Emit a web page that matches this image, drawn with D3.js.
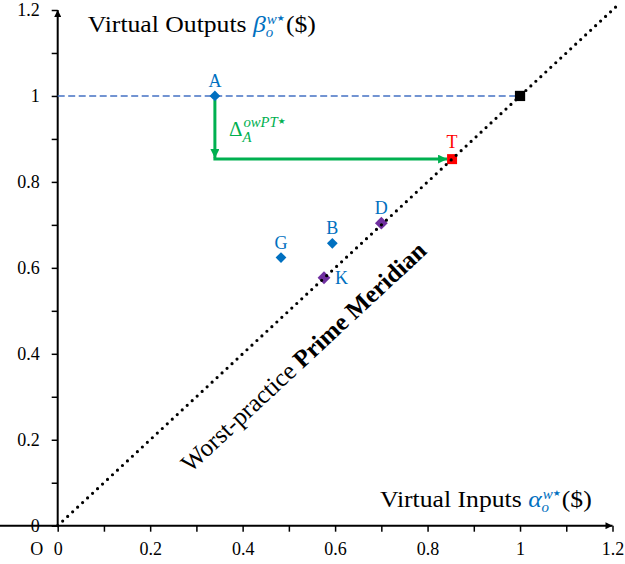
<!DOCTYPE html>
<html>
<head>
<meta charset="utf-8">
<script src="https://cdn.jsdelivr.net/npm/d3@7"></script>
<style>
body { margin: 0; background: #fff; }
text { font-family: "Liberation Serif", "Times New Roman", serif; }
</style>
</head>
<body>
<div id="chart"></div>
<script>
// axis ticks
const majorTicks = [0, 0.2, 0.4, 0.6, 0.8, 1, 1.2];
const minorTicks = [0.1, 0.3, 0.5, 0.7, 0.9, 1.1];
// DMUs (virtual input, virtual output)
const dmuNames = ["A", "G", "B", "K", "D"];
const dmuInputs = [0.34, 0.483, 0.594, 0.576, 0.70];
const dmuOutputs = [1.0, 0.624, 0.657, 0.577, 0.704];
const dmuOnMeridian = [false, false, false, true, true];
const dmuLabelSide = ["top", "top", "top", "right", "top"];
// target of A and the (1,1) point
const targetName = "T";
const targetPoint = [0.853, 0.853];
const unitPoint = [1, 1];
const meridianEnd = 1.21;

const W = 625, H = 564;
const blue = "#0070C0", purple = "#7030A0", green = "#00B050", red = "#FF0000", dashBlue = "#4472C4";

var x = d3.scaleLinear().domain([0, 1.2]).range([57.7, 612.5]);
var y = d3.scaleLinear().domain([0, 1.2]).range([525.7, 10]);

var svg = d3.select("#chart").append("svg")
	.attr("width", W)
	.attr("height", H);

var defs = svg.append("defs");
function arrowMarker(id, color, len, wid) {
	defs.append("marker")
		.attr("id", id)
		.attr("viewBox", "0 -5 10 10")
		.attr("refX", 10).attr("refY", 0)
		.attr("markerUnits", "userSpaceOnUse")
		.attr("markerWidth", len).attr("markerHeight", wid)
		.attr("orient", "auto")
		.append("path")
		.attr("d", "M0,-5L10,0L0,5Z")
		.attr("fill", color);
}
arrowMarker("axisArrow", "#000", 8, 7);
arrowMarker("greenArrow", green, 9, 9);

var allTicks = majorTicks.concat(minorTicks).sort(d3.ascending);
var fmt = function(d) { return majorTicks.indexOf(d) >= 0 ? d3.format("")(+d.toFixed(1)) : ""; };

var xAxis = svg.append("g")
	.attr("transform", "translate(0," + y(0) + ")")
	.call(d3.axisBottom(x).tickValues(allTicks).tickFormat(fmt).tickSize(6).tickSizeOuter(0).tickPadding(10.5));
var yAxis = svg.append("g")
	.attr("transform", "translate(" + x(0) + ",0)")
	.call(d3.axisLeft(y).tickValues(allTicks).tickFormat(fmt).tickSize(6).tickSizeOuter(0).tickPadding(12));

[xAxis, yAxis].forEach(function(a) {
	a.select(".domain").attr("stroke-width", 2).attr("marker-end", "url(#axisArrow)");
	a.selectAll(".tick line").attr("stroke-width", 1.5);
	a.selectAll("text").attr("font-family", "Liberation Serif").attr("font-size", 18).attr("fill", "#000");
});
// domain paths drawn from low to high, the arrow on the y axis must point up
yAxis.select(".domain").attr("d", "M0," + y(0) + "V" + y(1.2));
xAxis.select(".domain").attr("d", "M0,0H" + x(1.2));

svg.append("text")
	.attr("x", x(0) - 21).attr("y", y(0) + 29.3)
	.attr("text-anchor", "middle")
	.attr("font-size", 18)
	.text("O");

// dashed line at output 1
svg.append("line")
	.attr("x1", x(0)).attr("y1", y(1))
	.attr("x2", x(unitPoint[0]) - 5).attr("y2", y(1))
	.attr("stroke", dashBlue).attr("stroke-width", 1.6)
	.attr("stroke-dasharray", "7,3.5");

// green projection of A onto its target
var aIdx = dmuNames.indexOf("A");
svg.append("line")
	.attr("x1", x(dmuInputs[aIdx])).attr("y1", y(dmuOutputs[aIdx]) + 4)
	.attr("x2", x(dmuInputs[aIdx])).attr("y2", y(targetPoint[1]) - 1)
	.attr("stroke", green).attr("stroke-width", 3)
	.attr("marker-end", "url(#greenArrow)");
svg.append("line")
	.attr("x1", x(dmuInputs[aIdx]) - 1.5).attr("y1", y(targetPoint[1]))
	.attr("x2", x(targetPoint[0]) - 5).attr("y2", y(targetPoint[1]))
	.attr("stroke", green).attr("stroke-width", 3)
	.attr("marker-end", "url(#greenArrow)");

// markers
var diamond = d3.symbol().type(d3.symbolSquare);
svg.selectAll(".dmu").data(dmuNames).enter().append("path")
	.attr("d", function(d, i) { return diamond.size(dmuOnMeridian[i] ? 82 : 58)(); })
	.attr("transform", function(d, i) { return "translate(" + x(dmuInputs[i]) + "," + y(dmuOutputs[i]) + ") rotate(45)"; })
	.attr("fill", function(d, i) { return dmuOnMeridian[i] ? purple : blue; });

svg.append("path")
	.attr("d", d3.symbol().type(d3.symbolSquare).size(105)())
	.attr("transform", "translate(" + x(unitPoint[0]) + "," + y(unitPoint[1]) + ")")
	.attr("fill", "#000");
svg.append("path")
	.attr("d", d3.symbol().type(d3.symbolSquare).size(100)())
	.attr("transform", "translate(" + x(targetPoint[0]) + "," + y(targetPoint[1]) + ")")
	.attr("fill", red);

// worst-practice prime meridian
svg.append("line")
	.attr("x1", x(0)).attr("y1", y(0))
	.attr("x2", x(meridianEnd)).attr("y2", y(meridianEnd))
	.attr("stroke", "#000").attr("stroke-width", 3.2)
	.attr("stroke-linecap", "round")
	.attr("stroke-dasharray", "0,6.8");

// point labels
svg.selectAll(".lab").data(dmuNames).enter().append("text")
	.attr("x", function(d, i) { return x(dmuInputs[i]) + (dmuLabelSide[i] == "right" ? 11 : 0); })
	.attr("y", function(d, i) { return y(dmuOutputs[i]) + (dmuLabelSide[i] == "right" ? 6 : -9); })
	.attr("text-anchor", function(d, i) { return dmuLabelSide[i] == "right" ? "start" : "middle"; })
	.attr("font-size", 18)
	.attr("fill", blue)
	.text(function(d) { return d; });
svg.append("text")
	.attr("x", x(targetPoint[0])).attr("y", y(targetPoint[1]) - 11)
	.attr("text-anchor", "middle")
	.attr("font-size", 18)
	.attr("fill", red)
	.text(targetName);

// text with a stacked sub/superscript, stretched a little sideways like the original
function mathRun(px, py, sx, parts) {
	var g = svg.append("g").attr("transform", "translate(" + px + "," + py + ") scale(" + sx + ",1)");
	var cx = 0;
	parts.forEach(function(p) {
		var t = g.append("text")
			.attr("x", cx).attr("y", 0)
			.attr("font-size", p.size)
			.attr("fill", p.color || "#000")
			.attr("font-style", p.italic ? "italic" : null)
			.attr("font-family", p.font || null)
			.attr("xml:space", "preserve")
			.text(p.text);
		var w = t.node().getComputedTextLength();
		if (p.sub || p.sup) {
			var ws = 0;
			if (p.sup) {
				var s = g.append("text").attr("x", cx + w + 1).attr("y", p.supDy)
					.attr("font-size", p.ss).attr("font-style", "italic")
					.attr("font-family", "DejaVu Serif")
					.attr("fill", p.color);
				s.append("tspan").text(p.sup);
				s.append("tspan").attr("font-family", "DejaVu Sans").attr("font-style", "normal")
					.attr("font-size", p.ss * 0.6).attr("dy", -p.ss * 0.25).text("★");
				ws = Math.max(ws, s.node().getComputedTextLength());
			}
			if (p.sub) {
				var b = g.append("text").attr("x", cx + w).attr("y", p.subDy)
					.attr("font-size", p.ss).attr("font-style", "italic")
					.attr("font-family", "DejaVu Serif")
					.attr("fill", p.color).text(p.sub);
				ws = Math.max(ws, b.node().getComputedTextLength());
			}
			w += ws + 2;
		}
		cx += w;
	});
}

mathRun(x(0) + 30, 32, 1.07, [
	{text: "Virtual Outputs ", size: 24},
	{text: "β", size: 24, ss: 14, supDy: -8, subDy: 5, italic: true, color: blue, font: "DejaVu Serif", sup: "w", sub: "o"},
	{text: "($)", size: 24}
]);
mathRun(x(0.697), 507, 1.07, [
	{text: "Virtual Inputs ", size: 24},
	{text: "α", size: 24, ss: 14, supDy: -8, subDy: 5, italic: true, color: blue, font: "DejaVu Serif", sup: "w", sub: "o"},
	{text: "($)", size: 24}
]);
mathRun(x(dmuInputs[aIdx]) + 14, y(0.906), 1.05, [
	{text: "Δ", size: 20, ss: 14, supDy: -9, subDy: 6, color: green, font: "DejaVu Serif", sup: "owPT", sub: "A"}
]);

// rotated meridian caption
var ang = Math.atan2(y(0) - y(1), x(1) - x(0)) * 180 / Math.PI;
var cap = svg.append("text")
	.attr("transform", "translate(" + x(0.531) + "," + y(0.531) + ") rotate(" + (-ang) + ")")
	.attr("x", -40).attr("y", 52)
	.attr("text-anchor", "middle")
	.attr("font-size", 25);
cap.append("tspan").text("Worst-practice ");
cap.append("tspan").attr("font-weight", "bold").text("Prime Meridian");
</script>
</body>
</html>
